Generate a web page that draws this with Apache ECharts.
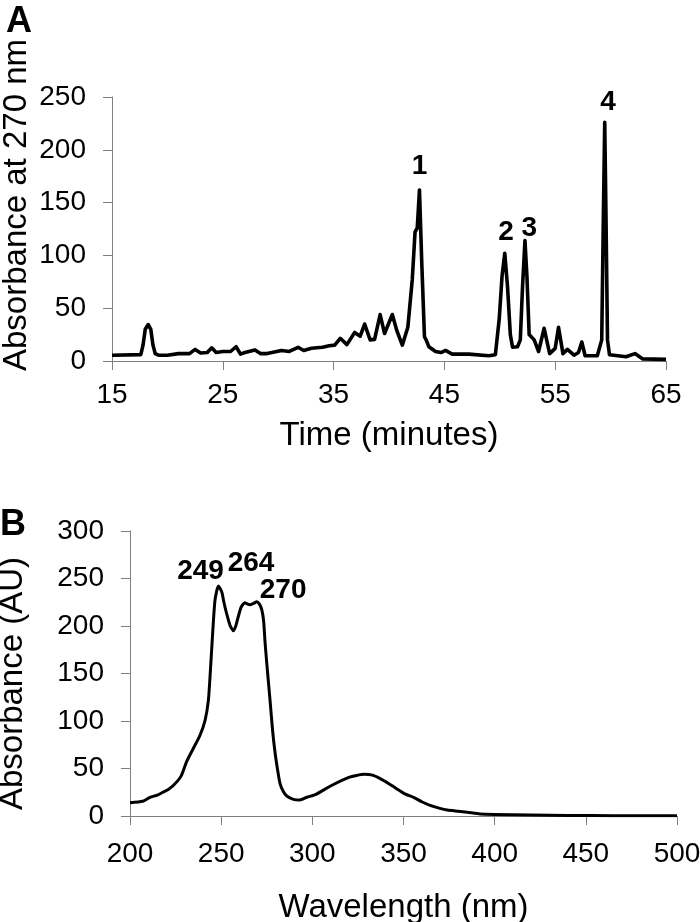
<!DOCTYPE html>
<html>
<head>
<meta charset="utf-8">
<script src="https://cdn.jsdelivr.net/npm/echarts@6/dist/echarts.min.js"></script>
<style>
  html, body { margin: 0; padding: 0; background: #fff; }
  #chart { width: 700px; height: 922px; }
</style>
</head>
<body>
<div id="chart"></div>
<script>
// panel A: chromatogram, time (min) vs absorbance at 270 nm
const timeA = [15, 17.6, 17.8, 18.0, 18.27, 18.5, 18.7, 18.9, 19.2, 20, 21, 22, 22.5, 23, 23.6, 24.0, 24.4, 25, 25.7, 26.2, 26.6, 27, 27.9, 28.4, 29, 30.3, 31, 31.8, 32.3, 33, 34, 34.6, 35.1, 35.6, 36.2, 36.9, 37.4, 37.8, 38.3, 38.7, 39.2, 39.6, 40.3, 40.7, 41.2, 41.7, 42.1, 42.35, 42.55, 42.75, 42.95, 43.2, 43.35, 43.6, 44.2, 44.7, 45.1, 45.7, 47.2, 49.0, 49.6, 49.95, 50.2, 50.45, 50.7, 50.95, 51.15, 51.6, 51.85, 52.05, 52.27, 52.45, 52.65, 53.1, 53.5, 54.0, 54.5, 55.0, 55.3, 55.7, 56.1, 56.7, 57.1, 57.4, 57.7, 58.8, 59.2, 59.35, 59.47, 59.58, 59.72, 59.9, 61.4, 62.2, 62.9, 65]
const absA = [5.5, 6, 15, 30, 34.5, 30, 15, 7, 5.5, 5.5, 7, 7, 11, 7.5, 8, 12.5, 8, 9, 9, 13.5, 6.5, 8, 10.5, 7, 7, 10, 9, 13, 10, 12, 13, 14.5, 15, 21.5, 15.5, 27, 23.5, 35, 20, 20.5, 44, 26, 44, 29, 15, 32, 77, 122, 126, 162, 95, 23, 20, 13.5, 9, 8, 10, 6.5, 6.5, 5, 6, 40, 80, 102, 70, 25, 13, 13.5, 20, 70, 114, 80, 25, 20, 9, 31, 7, 12, 32, 7, 11, 5.5, 8, 18, 5, 5, 20, 140, 226, 140, 20, 6, 4, 7, 2, 1.5]
const peakNamesA = ['1', '2', '3', '4']
const peakTimeA = [42.75, 50.56, 52.66, 59.77]
const peakAbsA = [184, 122, 126, 245]

// panel B: absorbance spectrum
const waveB = [200, 207, 211, 215, 218, 221, 224, 228, 231, 234.7, 238.4, 241.2, 243, 244, 245, 246.6, 248.5, 250.3, 251.5, 253, 255, 256.7, 258, 259.4, 261, 263, 264.5, 266, 268, 269.5, 271, 272.3, 273.3, 274.1, 275.5, 276.8, 278.2, 279.6, 281, 282.3, 284, 286, 289.6, 293, 297, 302, 310, 320, 328.5, 333, 337, 342, 346, 351, 355.5, 360, 365, 370, 374, 380, 385, 392, 400, 420, 440, 465, 500]
const absB = [14, 15.5, 19.7, 22, 25, 28, 32.6, 42, 57, 71, 85, 101, 122, 150, 182, 227, 242, 236, 225, 213, 200, 195, 200, 210, 220, 224.5, 223, 222.5, 224, 225.6, 223, 217, 205, 182, 150, 122, 90, 66, 48, 34, 26, 21, 17.5, 16.8, 19.7, 22.8, 31.6, 40.7, 43.9, 43, 39.6, 34, 29, 23, 19.7, 15, 10.9, 8, 6.3, 5, 3.9, 2.1, 1.6, 1, 0.6, 0.3, 0.2]
const peakNamesB = ['249', '264', '270']
const peakWaveB = [238.7, 266.4, 284]
const peakAbsB = [258, 266, 238]

const font = 'Liberation Sans, Arial, sans-serif'
const axisColor = '#808080'

function axisStyle(extra) {
  return Object.assign({
    type: 'value',
    splitLine: { show: false },
    axisLine: { show: true, lineStyle: { color: axisColor, width: 1 } },
    axisTick: { show: true, length: 9, lineStyle: { color: axisColor, width: 1 } },
    axisLabel: { color: '#000', fontSize: 28, fontFamily: font },
    nameTextStyle: { color: '#000', fontSize: 33, fontFamily: font },
    nameLocation: 'middle',
    nameMoveOverlap: false,
  }, extra)
}

const lineA = timeA.map((t, i) => [t, absA[i]])
const lineB = waveB.map((w, i) => [w, absB[i]])
const labelsA = peakNamesA.map((n, i) => [peakTimeA[i], peakAbsA[i], n])
const labelsB = peakNamesB.map((n, i) => [peakWaveB[i], peakAbsB[i], n])

const peakLabel = {
  show: true,
  position: 'inside',
  formatter: (p) => p.value[2],
  color: '#000',
  fontSize: 28,
  fontWeight: 'bold',
  fontFamily: font,
}

const option = {
  animation: false,
  backgroundColor: '#fff',
  grid: [
    { left: 112, top: 97, width: 554, height: 264, outerBoundsMode: 'none', containLabel: false },
    { left: 130, top: 531, width: 547, height: 285, outerBoundsMode: 'none', containLabel: false },
  ],
  xAxis: [
    axisStyle({
      gridIndex: 0, min: 15, max: 65, interval: 10,
      name: 'Time (minutes)', nameGap: 58,
      axisLabel: { color: '#000', fontSize: 28, fontFamily: font, margin: 20 },
    }),
    axisStyle({
      gridIndex: 1, min: 200, max: 500, interval: 50,
      name: 'Wavelength (nm)', nameGap: 75,
      axisLabel: { color: '#000', fontSize: 28, fontFamily: font, margin: 24 },
    }),
  ],
  yAxis: [
    axisStyle({
      gridIndex: 0, min: 0, max: 250, interval: 50,
      name: 'Absorbance at 270 nm', nameGap: 79,
      nameTextStyle: { color: '#000', fontSize: 33, fontFamily: font, padding: [0, 0, 0, 48] },
      axisLabel: { color: '#000', fontSize: 28, fontFamily: font, margin: 26 },
    }),
    axisStyle({
      gridIndex: 1, min: 0, max: 300, interval: 50,
      name: 'Absorbance (AU)', nameGap: 101,
      nameTextStyle: { color: '#000', fontSize: 33, fontFamily: font, padding: [0, 20, 0, 0] },
      axisLabel: { color: '#000', fontSize: 28, fontFamily: font, margin: 26 },
    }),
  ],
  graphic: [
    { type: 'text', left: 6, top: 4, style: { text: 'A', font: 'bold 36px ' + font, fill: '#000' } },
    { type: 'text', left: 0, top: 507, style: { text: 'B', font: 'bold 36px ' + font, fill: '#000' } },
  ],
  series: [
    {
      type: 'line', xAxisIndex: 0, yAxisIndex: 0, data: lineA,
      showSymbol: false, smooth: false,
      lineStyle: { color: '#000', width: 3.6, join: 'round' },
    },
    {
      type: 'scatter', xAxisIndex: 0, yAxisIndex: 0, data: labelsA,
      symbolSize: 1, itemStyle: { color: 'rgba(0,0,0,0)', opacity: 1 }, label: peakLabel,
    },
    {
      type: 'line', xAxisIndex: 1, yAxisIndex: 1, data: lineB,
      showSymbol: false, smooth: 0.2,
      lineStyle: { color: '#000', width: 3, join: 'round' },
    },
    {
      type: 'scatter', xAxisIndex: 1, yAxisIndex: 1, data: labelsB,
      symbolSize: 1, itemStyle: { color: 'rgba(0,0,0,0)', opacity: 1 }, label: peakLabel,
    },
  ],
}

const myChart = echarts.init(document.getElementById('chart'))
myChart.setOption(option)
</script>
</body>
</html>
